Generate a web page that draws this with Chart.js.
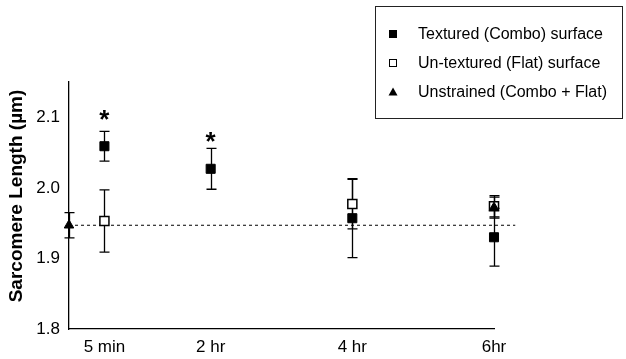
<!DOCTYPE html>
<html>
<head>
<meta charset="utf-8">
<script src="https://cdn.jsdelivr.net/npm/chart.js@4/dist/chart.umd.min.js"></script>
<style>
html,body{margin:0;padding:0;background:#fff;}
#wrap{width:626px;height:359px;position:relative;}
</style>
</head>
<body>
<div id="wrap"><canvas id="c" width="626" height="359"></canvas></div>
<script>
// ---- data ----
const timePoints = [0.5, 2, 4, 6];
const timeLabels = ['5 min', '2 hr', '4 hr', '6hr'];
const yTicks = [1.8, 1.9, 2.0, 2.1];
const yTitle = 'Sarcomere Length (µm)';

const texturedMean = [2.059, 2.027, 1.957, 1.930];
const texturedErr  = [0.021, 0.029, 0.056, 0.041];

const flatMean = [1.953, null, 1.977, 1.974];
const flatErr  = [0.044, null, 0.035, 0.015];

const unstrainedX    = [0, 6];
const unstrainedMean = [1.947, 1.972];
const unstrainedErr  = [0.018, 0.015];

const baselineValue = 1.947;
const baselineX = [0, 6.3];

const starX = [0.5, 2];
const starY = [2.106, 2.075];

const legendLabels = ['Textured (Combo) surface', 'Un-textured (Flat) surface', 'Unstrained (Combo + Flat)'];

const FONT = '"Liberation Sans", Arial, Helvetica, sans-serif';

function pts(xs, ys) {
  const out = [];
  xs.forEach((x, i) => { if (ys[i] !== null) out.push({x: x, y: ys[i]}); });
  return out;
}

const errorBarPlugin = {
  id: 'errorBars',
  beforeDatasetsDraw(chart) {
    const ctx = chart.ctx;
    const xs = chart.scales.x, ys = chart.scales.y;
    ctx.save();
    ctx.strokeStyle = '#000';
    ctx.lineWidth = 1.3;
    chart.data.datasets.forEach(ds => {
      if (!ds.errors) return;
      ds.data.forEach((p, i) => {
        const e = ds.errors[i];
        if (e == null) return;
        const px = Math.round(xs.getPixelForValue(p.x)) + 0.5;
        const top = ys.getPixelForValue(p.y + e);
        const bot = ys.getPixelForValue(p.y - e);
        ctx.beginPath();
        ctx.moveTo(px, top); ctx.lineTo(px, bot);
        ctx.moveTo(px - 5, top); ctx.lineTo(px + 5, top);
        ctx.moveTo(px - 5, bot); ctx.lineTo(px + 5, bot);
        ctx.stroke();
      });
    });
    ctx.restore();
  },
  afterDatasetsDraw(chart) {
    const ctx = chart.ctx;
    const xs = chart.scales.x, ys = chart.scales.y;
    ctx.save();
    ctx.fillStyle = '#000';
    ctx.font = 'bold 26px ' + FONT;
    ctx.textAlign = 'center';
    ctx.textBaseline = 'alphabetic';
    starX.forEach((x, i) => {
      const px = xs.getPixelForValue(x);
      const py = ys.getPixelForValue(starY[i]);
      ctx.fillText('*', px, py + 0.57 * 26);
    });
    ctx.restore();
  },
  afterDraw(chart) {
    const ctx = chart.ctx;
    ctx.save();
    // y axis title
    ctx.save();
    ctx.translate(17, 196);
    ctx.rotate(-Math.PI / 2);
    ctx.font = 'bold 19px ' + FONT;
    ctx.fillStyle = '#000';
    ctx.textAlign = 'center';
    ctx.textBaseline = 'middle';
    ctx.fillText(yTitle, 0, 0);
    ctx.restore();
    // legend
    ctx.strokeStyle = '#222';
    ctx.lineWidth = 1;
    ctx.strokeRect(375.5, 6.5, 247, 112);
    const rows = [34, 63, 92];
    const mx = 393;
    ctx.font = '16px ' + FONT;
    ctx.textBaseline = 'middle';
    ctx.textAlign = 'left';
    rows.forEach((ry, i) => {
      ctx.fillStyle = '#000';
      ctx.strokeStyle = '#000';
      if (i === 0) {
        ctx.fillRect(mx - 4, ry - 4, 8, 8);
      } else if (i === 1) {
        ctx.lineWidth = 1;
        ctx.strokeRect(mx - 3.5, ry - 3.5, 7, 7);
      } else {
        ctx.beginPath();
        ctx.moveTo(mx, ry - 4.5);
        ctx.lineTo(mx + 4.5, ry + 3.5);
        ctx.lineTo(mx - 4.5, ry + 3.5);
        ctx.closePath();
        ctx.fill();
      }
      ctx.fillText(legendLabels[i], 418, ry + 1);
    });
    ctx.restore();
  }
};

new Chart(document.getElementById('c'), {
  type: 'scatter',
  data: {
    datasets: [
      {
        label: legendLabels[2],
        data: pts(unstrainedX, unstrainedMean),
        errors: unstrainedErr,
        pointStyle: 'triangle',
        pointRadius: 5.5,
        backgroundColor: '#000',
        borderColor: '#000',
        borderWidth: 1,
        clip: false
      },
      {
        label: legendLabels[0],
        data: pts(timePoints, texturedMean),
        errors: texturedErr,
        pointStyle: 'rect',
        pointRadius: 6.4,
        backgroundColor: '#000',
        borderColor: '#000',
        borderWidth: 1,
        clip: false
      },
      {
        label: legendLabels[1],
        data: pts(timePoints, flatMean),
        errors: flatErr.filter(v => v !== null),
        pointStyle: 'rect',
        pointRadius: 6.4,
        backgroundColor: '#fff',
        borderColor: '#000',
        borderWidth: 1.5,
        clip: false
      },
      {
        type: 'line',
        label: 'baseline',
        data: baselineX.map(x => ({x: x, y: baselineValue})),
        borderColor: '#000',
        borderWidth: 1,
        borderDash: [3, 3],
        pointRadius: 0,
        fill: false,
        clip: false
      }
    ]
  },
  options: {
    responsive: false,
    animation: false,
    events: [],
    layout: { padding: { top: 82, right: 132, left: 4, bottom: 0 } },
    plugins: {
      legend: { display: false },
      tooltip: { enabled: false }
    },
    scales: {
      x: {
        type: 'linear',
        min: 0,
        max: 6,
        grid: { display: false, drawOnChartArea: false, drawTicks: true, tickLength: 6, color: '#000', tickColor: '#000' },
        border: { display: true, color: '#000', width: 1.3 },
        afterBuildTicks(scale) { scale.ticks = timePoints.map(v => ({value: v})); },
        afterFit(scale) { scale.height = 30; },
        ticks: {
          color: '#000',
          font: { family: FONT, size: 17 },
          padding: 2,
          maxRotation: 0,
          autoSkip: false,
          callback(value) {
            const i = timePoints.indexOf(value);
            return i >= 0 ? timeLabels[i] : '';
          }
        }
      },
      y: {
        type: 'linear',
        min: 1.8,
        max: 2.15,
        grid: { display: false, drawOnChartArea: false, drawTicks: true, tickLength: 6, tickColor: '#000' },
        border: { display: true, color: '#000', width: 1.3 },
        afterBuildTicks(scale) { scale.ticks = yTicks.map(v => ({value: v})); },
        afterFit(scale) { scale.width = 65; },
        title: { display: false },
        ticks: {
          color: '#000',
          font: { family: FONT, size: 17 },
          padding: 3,
          callback(value) { return value.toFixed(1); }
        }
      }
    }
  },
  plugins: [errorBarPlugin]
});
</script>
</body>
</html>
